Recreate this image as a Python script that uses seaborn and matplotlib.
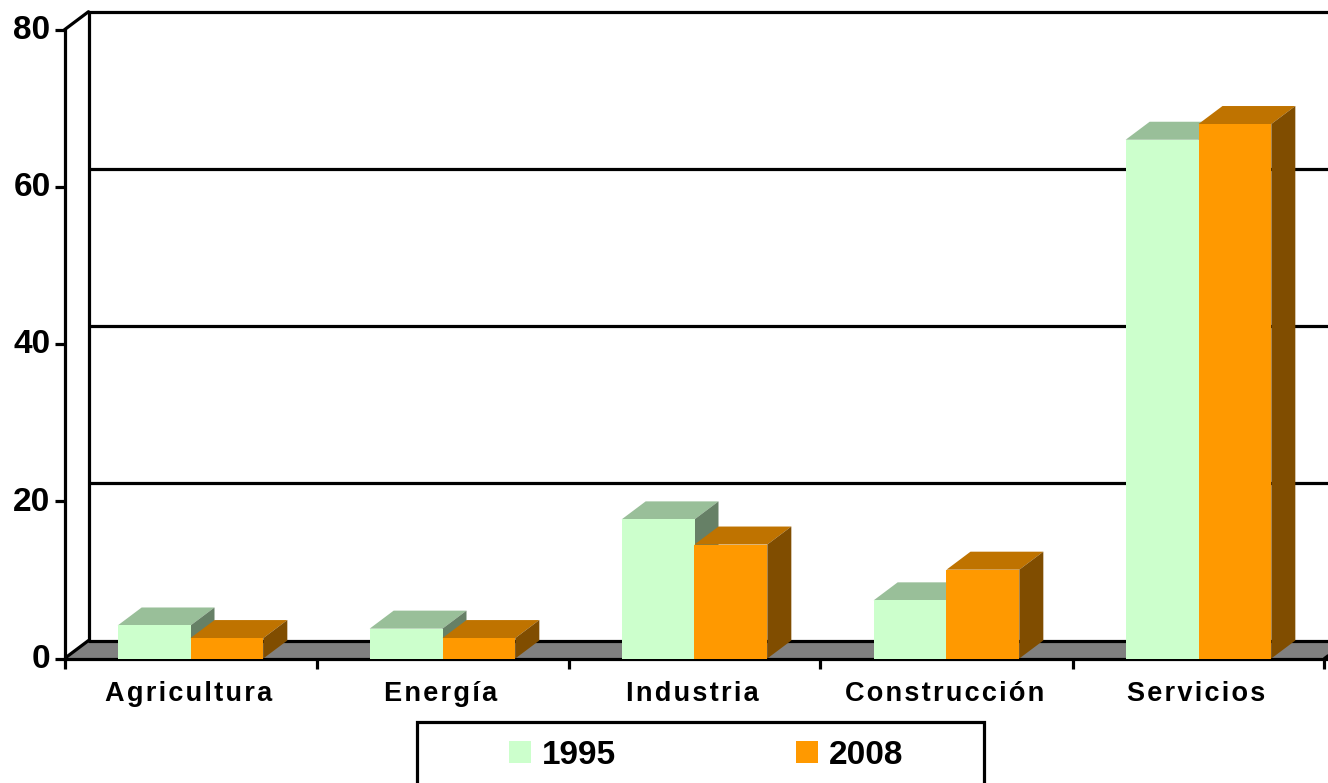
import matplotlib
matplotlib.use("Agg")
import matplotlib.pyplot as plt
from matplotlib.patches import Polygon, Rectangle
from matplotlib.transforms import ScaledTranslation
import pandas as pd
import seaborn as sns

categories = ["Agricultura", "Energía", "Industria", "Construcción", "Servicios"]
values_1995 = [4.2, 3.8, 17.7, 7.4, 66.0]
values_2008 = [2.6, 2.6, 14.5, 11.3, 68.0]
yticks = [0, 20, 40, 60, 80]
series_names = ["1995", "2008"]
front_colors = ["#CCFFCC", "#FF9900"]
top_colors = ["#99BF99", "#BF7300"]
side_colors = ["#668066", "#804D00"]

W, H = 1328, 783
PX_PER_CAT = 252.0
PX_PER_UNIT = 7.86
DX = 24.0 / PX_PER_CAT
DY = 18.0 / PX_PER_UNIT
LW = 2.3

sns.set_theme(style="white")
plt.rcParams["font.family"] = ["Liberation Sans", "DejaVu Sans"]
plt.rcParams["font.weight"] = "bold"

fig = plt.figure(figsize=(W / 100, H / 100), dpi=100)
ax_left, ax_bottom_px = 64.5, 658.5
ax = fig.add_axes([ax_left / W, (H - ax_bottom_px) / H, (W - ax_left) / W, ax_bottom_px / H])

df = pd.DataFrame({
    "cat": categories * 2,
    "val": values_1995 + values_2008,
    "year": [series_names[0]] * 5 + [series_names[1]] * 5,
})
sns.barplot(data=df, x="cat", y="val", hue="year", order=categories,
            palette=front_colors, saturation=1, width=0.578, gap=0,
            legend=False, ax=ax, linewidth=0)

x0, x1 = -0.5, -0.5 + (W - ax_left) / PX_PER_CAT
ax.set_xlim(x0, x1)
ax.set_ylim(0, ax_bottom_px / PX_PER_UNIT)
ax.set_xlabel("")
ax.set_ylabel("")

# back wall grid, wall edge and floor
for v in yticks:
    ax.plot([x0 + DX, x1], [v + DY] * 2, color="black", lw=LW, zorder=1.5, solid_capstyle="butt")
ax.plot([x0 + DX] * 2, [DY, yticks[-1] + DY], color="black", lw=LW, zorder=1.6)
ax.add_patch(Polygon([(x0, 0), (x0 + DX, DY), (x1 + 1, DY), (x1 + 1, 0)],
                     facecolor="#808080", edgecolor="none", zorder=1))
ax.plot([x0, x0 + DX], [0, DY], color="black", lw=LW, zorder=1.7)
ax.plot([x0, x0 + DX], [yticks[-1], yticks[-1] + DY], color="black", lw=LW, zorder=1.7,
        clip_on=False)
ax.plot([4.5, x1], [0, (x1 - 4.5) / DX * DY], color="black", lw=LW, zorder=1.7)

# extruded faces of every bar, derived from the bars seaborn drew
for s, container in enumerate(ax.containers):
    for bar in container:
        bx, bw, bh = bar.get_x(), bar.get_width(), bar.get_height()
        bar.set_zorder(4 + 2 * s)
        bar.set_antialiased(False)
        ax.add_patch(Polygon([(bx, bh), (bx + DX, bh + DY), (bx + bw + DX, bh + DY), (bx + bw, bh)],
                             facecolor=top_colors[s], edgecolor="none", zorder=3 + 2 * s))
        ax.add_patch(Polygon([(bx + bw, 0), (bx + bw + DX, DY), (bx + bw + DX, bh + DY), (bx + bw, bh)],
                             facecolor=side_colors[s], edgecolor="none", zorder=3 + 2 * s))

for name, sp in ax.spines.items():
    sp.set_visible(name in ("left", "bottom"))
    sp.set_color("black")
    sp.set_linewidth(LW)
    sp.set_zorder(2)
ax.spines["left"].set_bounds(0, yticks[-1])

ax.set_yticks(yticks)
ax.set_yticklabels([str(v) for v in yticks], fontsize=24, fontweight="bold", color="black")
ax.tick_params(axis="y", length=7.5, width=LW, pad=2.5, left=True, color="black")
up = ScaledTranslation(0, 2 / 72, fig.dpi_scale_trans)
for lab in ax.get_yticklabels():
    lab.set_transform(lab.get_transform() + up)

HAIR = "\u200a"
ax.set_xticks(range(len(categories)))
ax.set_xticklabels([HAIR.join(c) for c in categories], fontsize=19.5, fontweight="bold", color="black")
ax.set_xticks([i - 0.5 for i in range(len(categories) + 1)], minor=True)
ax.tick_params(axis="x", which="major", length=0, pad=16.5)
ax.tick_params(axis="x", which="minor", length=7.5, width=LW, bottom=True, color="black")
left = ScaledTranslation(-1.5 / 72, 0, fig.dpi_scale_trans)
for lab in ax.get_xticklabels():
    lab.set_transform(lab.get_transform() + left)

# legend box and entries
fig.add_artist(Rectangle((417 / W, -20 / H), 567 / W, (H - 722 + 20) / H, transform=fig.transFigure,
                         facecolor="white", edgecolor="black", lw=LW))
handles = [Rectangle((0, 0), 1, 1, facecolor=c, edgecolor="none") for c in front_colors]
leg = fig.legend(handles, series_names, ncol=2, frameon=False, loc="center",
                 bbox_to_anchor=(706 / W, (H - 755) / H), fontsize=24,
                 handlelength=0.66, handleheight=0.66, handletextpad=0.32, columnspacing=5.4,
                 borderpad=0, borderaxespad=0)
for t in leg.get_texts():
    t.set_fontweight("bold")
    t.set_color("black")

fig.savefig("out.png", dpi=100, facecolor="white")
